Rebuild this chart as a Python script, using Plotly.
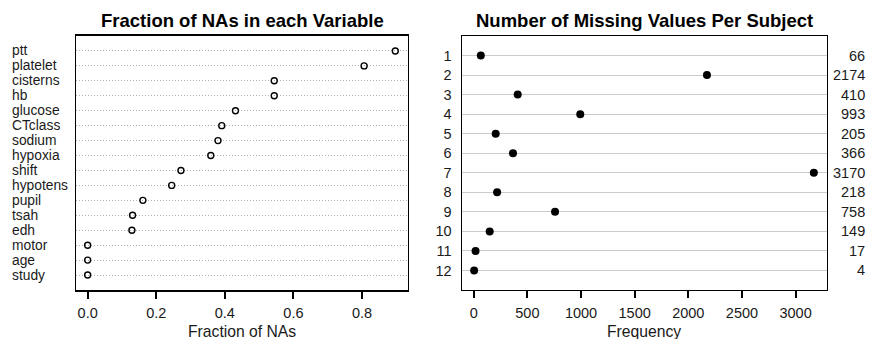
import plotly.graph_objects as go

W, H = 869, 339

variables = ["ptt", "platelet", "cisterns", "hb", "glucose", "CTclass", "sodium",
             "hypoxia", "shift", "hypotens", "pupil", "tsah", "edh", "motor", "age", "study"]
fractions = [0.897, 0.806, 0.544, 0.544, 0.431, 0.391, 0.380, 0.359, 0.272, 0.245,
             0.161, 0.131, 0.129, 0.0, 0.0, 0.0]

n_missing = [str(i) for i in range(1, 13)]
frequency = [66, 2174, 410, 993, 205, 366, 3170, 218, 758, 149, 17, 4]

left_ticks = [0.0, 0.2, 0.4, 0.6, 0.8]
left_ticktext = ["0.0", "0.2", "0.4", "0.6", "0.8"]
right_ticks = [0, 500, 1000, 1500, 2000, 2500, 3000]

FONT = "Liberation Sans, Arial, Helvetica, sans-serif"
TXT = "#1a1a1a"

def px(x):
    return x / W

def py(y):
    return 1 - y / H

box_l = (76, 408)
box_r = (461.7, 826.7)
box_y = (36, 290)

fig = go.Figure()

rows_left = list(range(1, len(variables) + 1))
rows_right = list(range(1, len(n_missing) + 1))

fig.add_trace(go.Scatter(
    x=fractions, y=rows_left, mode="markers",
    marker=dict(symbol="circle-open", size=6, color="black", line=dict(width=1.4, color="black")),
    xaxis="x", yaxis="y", showlegend=False, cliponaxis=False,
))
fig.add_trace(go.Scatter(
    x=frequency, y=rows_right, mode="markers",
    marker=dict(symbol="circle", size=8, color="black"),
    xaxis="x2", yaxis="y2", showlegend=False, cliponaxis=False,
))

axis_common = dict(showline=True, linecolor="black", mirror=True, zeroline=False,
                   tickfont=dict(family=FONT, size=14.5, color=TXT))

fig.update_layout(
    width=W, height=H,
    margin=dict(l=0, r=0, t=0, b=0),
    paper_bgcolor="white", plot_bgcolor="white",
    font=dict(family=FONT, color=TXT),
    xaxis=dict(domain=[px(box_l[0]), px(box_l[1])], range=[-0.034, 0.934],
               tickvals=left_ticks, ticktext=left_ticktext, ticks="outside", ticklen=7,
               tickwidth=1.5, tickcolor="black", showgrid=False, linewidth=1.5,
               ticklabelstandoff=2, anchor="y", **axis_common),
    yaxis=dict(domain=[py(box_y[1]), py(box_y[0])], range=[len(variables) + 1, 0],
               tickvals=rows_left, showticklabels=False, ticks="", showgrid=True,
               gridcolor="#b0b0b0", griddash="1px,2px", gridwidth=1, linewidth=1.2,
               anchor="x", **axis_common),
    xaxis2=dict(domain=[px(box_r[0]), px(box_r[1])], range=[-112, 3290],
                tickvals=right_ticks, ticks="outside", ticklen=7, tickwidth=1.5,
                tickcolor="black", showgrid=False, linewidth=1.3,
                ticklabelstandoff=2, anchor="y2", **axis_common),
    yaxis2=dict(domain=[py(box_y[1]), py(box_y[0])], range=[len(n_missing) + 1, 0],
                tickvals=rows_right, ticktext=n_missing, ticks="", showgrid=True,
                gridcolor="#cccccc", gridwidth=1.3, linewidth=1.3,
                ticklabelstandoff=6, anchor="x2", **axis_common),
)

annotations = []
# left panel row labels (left-aligned)
for r, name in zip(rows_left, variables):
    annotations.append(dict(x=px(10), xref="paper", xanchor="left", y=r, yref="y",
                            yanchor="middle", text=name, showarrow=False,
                            font=dict(family=FONT, size=13.8, color=TXT)))
# right panel value labels (right-aligned)
for r, v in zip(rows_right, frequency):
    annotations.append(dict(x=px(867), xref="paper", xanchor="right", y=r, yref="y2",
                            yanchor="middle", text=str(v), showarrow=False,
                            font=dict(family=FONT, size=14.5, color=TXT)))
# titles
annotations.append(dict(x=px(sum(box_l) / 2), xref="paper", y=py(20.7), yref="paper",
                        xanchor="center", yanchor="middle", showarrow=False,
                        text="<b>Fraction of NAs in each Variable</b>",
                        font=dict(family=FONT, size=18.5, color="black")))
annotations.append(dict(x=px(sum(box_r) / 2), xref="paper", y=py(20.7), yref="paper",
                        xanchor="center", yanchor="middle", showarrow=False,
                        text="<b>Number of Missing Values Per Subject</b>",
                        font=dict(family=FONT, size=18.5, color="black")))
# axis titles
annotations.append(dict(x=px(sum(box_l) / 2), xref="paper", y=py(331.5), yref="paper",
                        xanchor="center", yanchor="middle", showarrow=False,
                        text="Fraction of NAs", font=dict(family=FONT, size=15.7, color=TXT)))
annotations.append(dict(x=px(sum(box_r) / 2), xref="paper", y=py(331.5), yref="paper",
                        xanchor="center", yanchor="middle", showarrow=False,
                        text="Frequency", font=dict(family=FONT, size=15.7, color=TXT)))

fig.update_layout(annotations=annotations)

fig.write_html("out.html")
